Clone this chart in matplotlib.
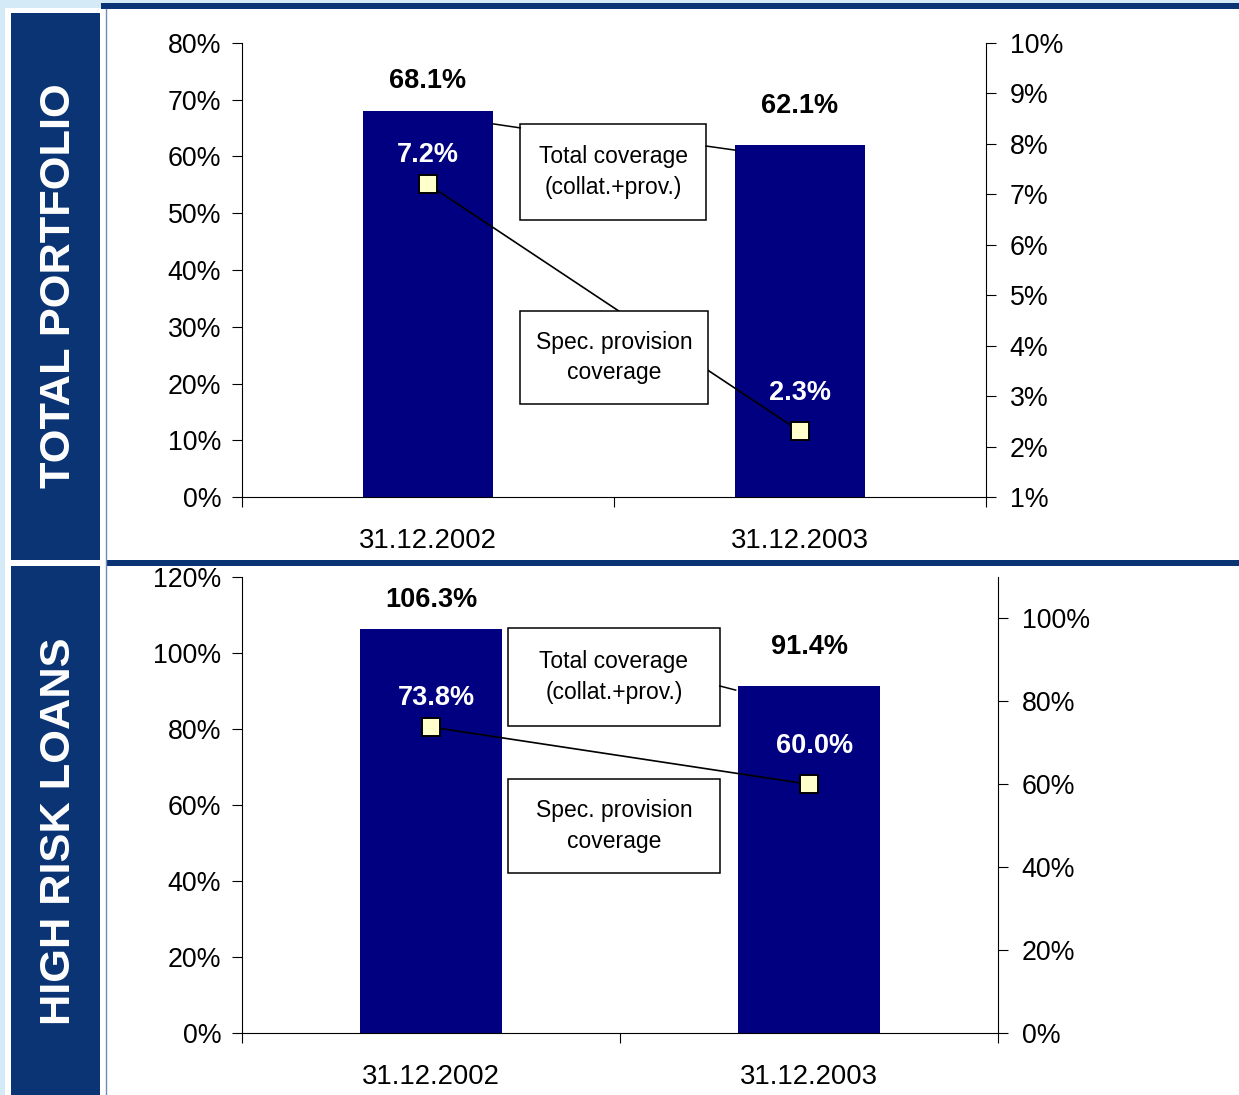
import matplotlib.pyplot as plt
import numpy as np
from matplotlib.lines import Line2D
from matplotlib.patches import Rectangle
from matplotlib.ticker import FuncFormatter

plt.rcParams["font.family"] = ["Liberation Sans", "DejaVu Sans"]

# %%
# Data
# ----
dates = ["31.12.2002", "31.12.2003"]

# total portfolio: total coverage (left axis) and specific provisions (right axis)
tp_total = [68.1, 62.1]
tp_spec = [7.2, 2.3]

# high risk loans
hr_total = [106.3, 91.4]
hr_spec = [73.8, 60.0]

band_labels = ["TOTAL PORTFOLIO", "HIGH RISK LOANS"]
box_total = "Total coverage\n(collat.+prov.)"
box_spec = "Spec. provision\ncoverage"

# %%
# Layout helpers
# --------------
W, H = 1239, 1095
NAVY = "#000080"
BAND = "#0b3474"
PALE = "#d4eaf6"
MARK = "#ffffcc"

fig = plt.figure(figsize=(W / 100, H / 100), dpi=100, facecolor=PALE)


def px_rect(x0, y0, x1, y1, **kw):
    """Rectangle given in pixel coordinates (origin top-left)."""
    r = Rectangle((x0 / W, 1 - y1 / H), (x1 - x0) / W, (y1 - y0) / H,
                  transform=fig.transFigure, lw=0, zorder=-10, **kw)
    fig.add_artist(r)
    return r


def px_axes(x0, y0, x1, y1):
    return fig.add_axes([x0 / W, 1 - y1 / H, (x1 - x0) / W, (y1 - y0) / H])


# page frame, side bands and separator rules
px_rect(5, 8, W, H, color="white")
px_rect(101, 3, W, 9, color=BAND)
px_rect(107, 560, W, 566, color=BAND)
px_rect(11, 13, 100, 560, color=BAND)
px_rect(11, 566, 100, H, color=BAND)
fig.add_artist(Line2D([106 / W, 106 / W], [0, 1 - 9 / H], transform=fig.transFigure,
                      color="#6f8ab8", lw=1, zorder=-9))

for label, yc in zip(band_labels, [286, 831]):
    fig.text(59 / W, 1 - yc / H, label, rotation=90, color="white",
             fontsize=31.2, fontweight="bold", ha="center", va="center")

pct = FuncFormatter(lambda v, _: f"{v:.0f}%")


def draw_panel(ax, totals, specs, left_ticks, right_lim, right_ticks, bar_w,
               boxes, leaders, label_dx=0):
    ax.patch.set_alpha(0)
    x = np.array([0.5, 1.5])
    ax.bar(x, totals, width=bar_w, color=NAVY, zorder=2)
    ax.set_xlim(0, 2)
    ax.set_ylim(left_ticks[0], left_ticks[-1])
    ax.set_yticks(left_ticks)
    ax.yaxis.set_major_formatter(pct)
    ax.set_xticks([0, 1, 2])
    ax.set_xticklabels([])
    ax.set_xticks(x, minor=True)
    ax.set_xticklabels(dates, minor=True, fontsize=19.8)
    ax.tick_params(axis="x", which="minor", length=0, pad=22.5)
    ax.tick_params(axis="x", which="major", length=7, width=0.8, direction="out")
    ax.tick_params(axis="y", length=7, width=0.8, pad=8, labelsize=19.3)
    ax.spines["top"].set_visible(False)
    ax.spines["right"].set_visible(False)
    for s in ("left", "bottom"):
        ax.spines[s].set_linewidth(0.8)

    ax2 = ax.twinx()
    ax2.set_ylim(*right_lim)
    ax2.set_yticks(right_ticks)
    ax2.yaxis.set_major_formatter(pct)
    ax2.tick_params(axis="y", length=7, width=0.8, pad=10, labelsize=19.3)
    for s in ("top", "left", "bottom"):
        ax2.spines[s].set_visible(False)
    ax2.spines["right"].set_linewidth(0.8)
    ax2.plot(x, specs, color="black", lw=1.2, marker="s", ms=13.5,
             mfc=MARK, mec="black", mew=1.4, zorder=3)

    offsets = [21, 27.5]
    for xi, v, off in zip(x, totals, offsets):
        ax.annotate(f"{v:.1f}%", (xi, v), xytext=(0, off), textcoords="offset points",
                    ha="center", va="center", fontsize=19.5, fontweight="bold")
    for xi, v, off in zip(x, specs, offsets):
        ax2.annotate(f"{v:.1f}%", (xi, v), xytext=(label_dx, off),
                     textcoords="offset points", ha="center", va="center",
                     fontsize=19.5, fontweight="bold", color="white", zorder=4)

    for (x0, y0, x1, y1), text in zip(boxes, [box_total, box_spec]):
        ax2.add_patch(Rectangle((x0, y0), x1 - x0, y1 - y0, transform=ax2.transAxes,
                                facecolor="white", edgecolor="black", lw=1.1,
                                zorder=5, clip_on=False))
        ax2.text((x0 + x1) / 2, (y0 + y1) / 2, text, transform=ax2.transAxes,
                 ha="center", va="center", fontsize=16.5, linespacing=1.4, zorder=6)
    for (xa, ya, xb, yb) in leaders:
        ax2.plot([xa, xb], [ya, yb], transform=ax2.transAxes, color="black",
                 lw=1.1, zorder=5, clip_on=False)
    return ax2


# %%
# Total portfolio
# ---------------
ax_top = px_axes(242, 43, 986, 497)
draw_panel(
    ax_top, tp_total, tp_spec,
    left_ticks=np.arange(0, 81, 10),
    right_lim=(1, 10), right_ticks=np.arange(1, 11, 1),
    bar_w=0.352,
    boxes=[(0.374, 0.610, 0.624, 0.822), (0.374, 0.205, 0.626, 0.410)],
    leaders=[(0.337, 0.822, 0.374, 0.813), (0.624, 0.773, 0.663, 0.764)],
)

# %%
# High risk loans
# ---------------
ax_bot = px_axes(242, 577, 998, 1033)
draw_panel(
    ax_bot, hr_total, hr_spec,
    left_ticks=np.arange(0, 121, 20),
    right_lim=(0, 110), right_ticks=np.arange(0, 101, 20),
    bar_w=0.378,
    boxes=[(0.352, 0.673, 0.632, 0.888), (0.352, 0.351, 0.632, 0.557)],
    leaders=[(0.632, 0.761, 0.653, 0.752)],
    label_dx=4,
)

fig.savefig("out.png", dpi=100, facecolor=PALE)
